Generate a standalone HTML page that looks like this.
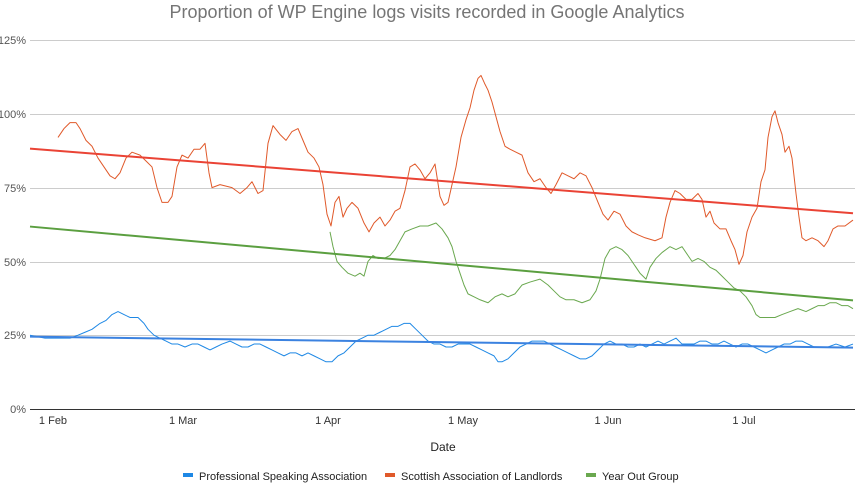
<!DOCTYPE html>
<html><head><meta charset="utf-8"><style>
html,body{margin:0;padding:0;background:#fff;}
svg{display:block;font-family:"Liberation Sans",sans-serif;}
</style></head><body>
<svg width="855" height="483" viewBox="0 0 855 483" xmlns="http://www.w3.org/2000/svg">
<text x="427" y="18" text-anchor="middle" font-size="18" fill="#757575">Proportion of WP Engine logs visits recorded in Google Analytics</text>
<g stroke="#cccccc" stroke-width="1">
<line x1="30" x2="855" y1="40.5" y2="40.5"/>
<line x1="30" x2="855" y1="114.5" y2="114.5"/>
<line x1="30" x2="855" y1="188.5" y2="188.5"/>
<line x1="30" x2="855" y1="262.5" y2="262.5"/>
<line x1="30" x2="855" y1="335.5" y2="335.5"/>
</g>
<line x1="30" x2="855" y1="409.5" y2="409.5" stroke="#333" stroke-width="1"/>
<g font-size="11" fill="#555" text-anchor="end">
<text x="26" y="44">125%</text><text x="26" y="118">100%</text><text x="26" y="192">75%</text>
<text x="26" y="266">50%</text><text x="26" y="339">25%</text><text x="26" y="413">0%</text>
</g>
<g font-size="11" fill="#333" text-anchor="middle">
<text x="53" y="424">1 Feb</text><text x="183" y="424">1 Mar</text><text x="328" y="424">1 Apr</text>
<text x="463" y="424">1 May</text><text x="608" y="424">1 Jun</text><text x="744" y="424">1 Jul</text>
</g>
<text x="443" y="451" text-anchor="middle" font-size="12" fill="#222">Date</text>
<g transform="translate(0,409) scale(1,-2.952)" fill="none" stroke-linejoin="round">
<polyline vector-effect="non-scaling-stroke" stroke="#e0592a" stroke-width="1" points="58,92 64,95 70,97 76,97 80,95 86,91 92,89 98,85 104,82 110,79 115,78 120,80 126,85 132,87 140,86 146,84 152,82 157,75 162,70 168,70 172,72 177,82 182,86 188,85 194,88 200,88 205,90 209,80 212,75 220,76 232,75 240,73 247,75 252,77 258,73 263,74 268,90 273,96 280,93 286,91 292,94 298,95 303,91 308,87 314,85 319,82 323,76 327,66 331,62 335,70 339,72 343,65 347,68 352,70 358,68 364,63 369,60 374,63 380,65 385,62 390,64 395,67 400,68 405,74 410,82 415,83 420,81 425,78 430,80 435,83 440,72 444,69 448,70 452,76 456,82 461,92 466,98 470,102 474,108 478,112 481,113 485,110 488,108 492,104 496,99 500,94 505,89 510,88 516,87 522,86 528,80 534,77 540,78 546,75 551,73 556,76 562,80 568,79 574,78 580,80 586,79 592,75 598,70 603,66 608,64 614,67 620,66 626,62 632,60 638,59 645,58 655,57 662,58 666,65 670,70 675,74 680,73 686,71 692,71 698,73 702,71 706,65 710,67 714,63 720,61 726,61 731,57 735,54 739,49 743,52 747,60 752,65 757,68 761,77 765,81 768,92 772,99 775,101 778,97 782,93 785,87 789,89 792,85 796,73 799,65 802,58 806,57 812,58 818,57 824,55 828,57 833,61 838,62 845,62 853,64"/>
<polyline vector-effect="non-scaling-stroke" stroke="#6aa84f" stroke-width="1" points="330,60 333,55 337,50 342,48 348,46 355,45 360,46 364,45 368,50 373,52 378,51 384,51 390,52 395,54 400,57 405,60 412,61 420,62 428,62 436,63 442,61 448,58 452,55 456,50 460,46 464,42 468,39 474,38 480,37 488,36 495,38 502,39 508,38 515,39 522,42 530,43 540,44 548,42 554,40 560,38 566,37 574,37 582,36 590,37 596,40 600,44 605,51 610,54 616,55 622,54 628,52 634,49 640,46 646,44 650,48 656,51 662,53 670,55 676,54 682,55 688,52 692,50 698,51 704,50 710,48 716,47 722,45 728,43 734,41 740,40 746,38 752,35 756,32 760,31 768,31 775,31 782,32 790,33 798,34 806,33 812,34 818,35 824,35 830,36 836,36 842,35 848,35 853,34"/>
<polyline vector-effect="non-scaling-stroke" stroke="#1e88e5" stroke-width="1" points="30,25 45,24 60,24 70,24 78,25 85,26 92,27 100,29 106,30 112,32 118,33 124,32 130,31 138,31 144,29 148,27 154,25 160,24 166,23 172,22 178,22 185,21 192,22 198,22 204,21 210,20 216,21 222,22 230,23 236,22 242,21 248,21 254,22 260,22 266,21 272,20 278,19 284,18 290,19 296,19 302,18 308,19 314,18 320,17 326,16 332,16 338,18 344,19 350,21 356,23 362,24 368,25 374,25 380,26 386,27 392,28 398,28 404,29 410,29 416,27 422,25 428,23 434,22 440,22 446,21 452,21 458,22 464,22 470,22 476,21 482,20 488,19 494,18 498,16 502,16 508,17 514,19 520,21 526,22 532,23 538,23 544,23 550,22 556,21 562,20 568,19 574,18 580,17 586,17 592,18 598,20 604,22 610,23 616,22 622,22 628,21 634,21 640,22 646,21 652,22 658,23 664,22 670,23 676,24 682,22 688,22 694,22 700,23 706,23 712,22 718,22 724,23 730,22 736,21 742,22 748,22 754,21 760,20 766,19 772,20 778,21 784,22 790,22 796,23 802,23 808,22 814,21 820,21 828,21 836,22 845,21 853,22"/>
<line vector-effect="non-scaling-stroke" stroke="#ea4335" stroke-width="2" x1="30" y1="88.2" x2="853" y2="66.3"/>
<line vector-effect="non-scaling-stroke" stroke="#5b9f40" stroke-width="2" x1="30" y1="61.8" x2="853" y2="36.8"/>
<line vector-effect="non-scaling-stroke" stroke="#3b82e0" stroke-width="2" x1="30" y1="24.5" x2="853" y2="20.8"/>
</g>
<g font-size="11" fill="#222">
<rect x="183" y="473" width="10" height="4" fill="#1e88e5"/><text x="199" y="480">Professional Speaking Association</text>
<rect x="385" y="473" width="10" height="4" fill="#e0592a"/><text x="401" y="480">Scottish Association of Landlords</text>
<rect x="586" y="473" width="10" height="4" fill="#6aa84f"/><text x="602" y="480">Year Out Group</text>
</g>
</svg>
</body></html>
